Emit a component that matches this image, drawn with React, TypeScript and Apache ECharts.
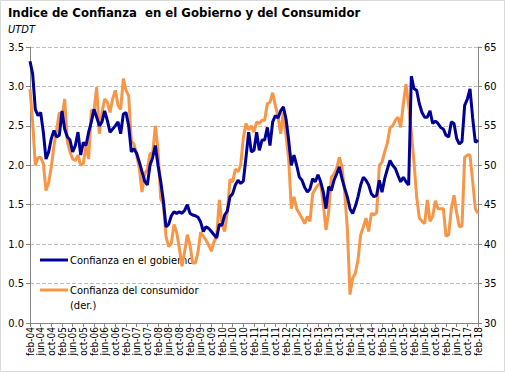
import React, { useEffect, useRef } from "react";
import * as echarts from "echarts";

const titulo = "Indice de Confianza  en el Gobierno y del Consumidor";
const subtitulo = "UTDT";
const nombreGobierno = "Confianza en el gobierno";
const nombreConsumidor = "Confianza del consumidor";
const nombreConsumidor2 = "(der.)";

const meses = ["ene", "feb", "mar", "abr", "may", "jun", "jul", "ago", "sep", "oct", "nov", "dic"];
const mesInicial = 1; // feb
const anioInicial = 2004;
const cantidadMeses = 169; // feb-04 .. feb-18

const categorias: string[] = [];
for (let i = 0; i < cantidadMeses; i++) {
  const m = (mesInicial + i) % 12;
  const a = anioInicial + Math.floor((mesInicial + i) / 12);
  categorias.push(meses[m] + "-" + String(a % 100).padStart(2, "0"));
}

// Confianza en el gobierno (eje izquierdo)
const gobierno = [
  3.32, 3.16, 2.71, 2.63, 2.67, 2.42, 2.08, 2.17, 2.34, 2.44,
  2.36, 2.38, 2.69, 2.46, 2.36, 2.32, 2.17, 2.25, 2.42, 2.13,
  2.29, 2.25, 2.42, 2.55, 2.71, 2.61, 2.50, 2.55, 2.69, 2.57,
  2.42, 2.46, 2.50, 2.55, 2.40, 2.65, 2.67, 2.50, 2.17, 2.21,
  2.15, 2.04, 1.92, 1.80, 1.75, 2.00, 2.10, 2.25, 2.00, 1.80,
  1.55, 1.22, 1.25, 1.36, 1.41, 1.39, 1.41, 1.39, 1.43, 1.50,
  1.39, 1.37, 1.36, 1.34, 1.28, 1.16, 1.22, 1.20, 1.16, 1.12,
  1.08, 1.25, 1.24, 1.37, 1.42, 1.60, 1.64, 1.75, 1.81, 1.77,
  1.80, 2.10, 2.42, 2.17, 2.19, 2.42, 2.19, 2.32, 2.32, 2.48,
  2.25, 2.55, 2.63, 2.60, 2.69, 2.74, 2.59, 2.32, 2.00, 2.13,
  2.00, 1.85, 1.81, 1.72, 1.66, 1.70, 1.83, 1.79, 1.88, 1.79,
  1.66, 1.45, 1.73, 1.68, 1.81, 1.89, 1.98, 1.83, 1.71, 1.60,
  1.45, 1.39, 1.48, 1.60, 1.75, 1.85, 1.81, 1.75, 1.64, 1.60,
  1.62, 1.81, 1.66, 1.83, 1.95, 2.06, 2.00, 1.96, 1.87, 1.79,
  1.85, 1.79, 1.75, 3.13, 2.97, 2.95, 2.78, 2.67, 2.61, 2.61,
  2.69, 2.53, 2.56, 2.53, 2.48, 2.46, 2.38, 2.36, 2.55, 2.53,
  2.34, 2.27, 2.30, 2.76, 2.84, 2.97, 2.60, 2.29, 2.32,
];

// Confianza del consumidor (eje derecho)
const consumidor = [
  59.7, 55.5, 50.0, 51.0, 51.0, 50.2, 46.8, 47.8, 49.8, 52.5,
  54.5, 56.7, 56.0, 58.4, 53.0, 51.7, 50.8, 50.6, 51.3, 50.0,
  50.2, 52.5, 50.8, 57.0, 56.9, 59.9, 54.0, 56.7, 58.4, 58.0,
  56.7, 58.4, 59.5, 57.6, 57.1, 61.0, 59.5, 58.8, 53.0, 52.7,
  51.3, 49.6, 46.6, 48.9, 49.5, 51.5, 51.5, 55.0, 52.0, 45.8,
  45.0, 41.0, 39.7, 40.1, 42.5, 41.5, 39.5, 37.2, 39.1, 41.2,
  39.9, 37.6, 37.6, 39.0, 41.5, 41.0, 40.5, 39.9, 39.1, 40.3,
  41.0, 45.6, 42.5, 41.6, 44.1, 48.2, 47.9, 49.5, 49.2, 50.0,
  53.5, 55.3, 54.5, 55.0, 54.2, 55.5, 55.3, 55.7, 55.7, 57.8,
  58.0, 59.2, 57.6, 56.2, 54.0, 56.7, 53.8, 50.8, 44.5, 46.0,
  44.5, 43.9, 43.3, 42.6, 43.5, 42.9, 46.4, 47.0, 47.5, 47.7,
  45.0, 41.8, 44.1, 48.5, 48.9, 49.6, 51.0, 49.8, 46.6, 42.0,
  33.6, 35.7, 36.3, 38.0, 41.2, 42.2, 43.3, 41.6, 43.9, 43.7,
  44.0, 50.0, 50.4, 51.7, 52.8, 54.8, 55.0, 55.7, 56.1, 54.8,
  57.8, 60.3, 57.6, 54.2, 50.4, 46.0, 43.3, 42.9, 42.6, 45.6,
  42.9, 43.5, 45.5, 44.5, 44.5, 44.5, 41.0, 41.2, 44.5, 46.2,
  44.0, 42.2, 42.3, 51.0, 51.3, 51.3, 48.0, 44.5, 43.9,
];

const AZUL = "#000096";
const NARANJA = "#F79646";
const FUENTE = "Tahoma, 'DejaVu Sans Condensed', 'DejaVu Sans', sans-serif";

export default function App() {
  const ref = useRef<HTMLDivElement>(null);

  useEffect(() => {
    if (!ref.current) return;
    const chart = echarts.init(ref.current, undefined, { renderer: "svg" });
    const ejeComun = {
      axisLine: { show: true, lineStyle: { color: "#868686", width: 1 } },
      axisTick: { show: true, length: 4, lineStyle: { color: "#868686" } },
    };
    chart.setOption({
      animation: false,
      backgroundColor: "#ffffff",
      textStyle: { fontFamily: FUENTE },
      title: {
        text: titulo,
        subtext: subtitulo,
        left: 8,
        top: 6,
        padding: 0,
        itemGap: 5,
        textStyle: { fontSize: 13, fontWeight: "bold", color: "#000", fontFamily: FUENTE },
        subtextStyle: { fontSize: 11, fontStyle: "italic", color: "#000", fontFamily: FUENTE },
      },
      grid: { left: 30, right: 27, top: 47, bottom: 49, containLabel: false },
      xAxis: {
        type: "category",
        data: categorias,
        boundaryGap: false,
        ...ejeComun,
        axisTick: { show: true, length: 4, interval: 3, lineStyle: { color: "#868686" } },
        axisLabel: {
          interval: 3,
          rotate: 90,
          fontSize: 10,
          color: "#000",
          margin: 4,
          fontFamily: FUENTE,
        },
        splitLine: { show: false },
      },
      yAxis: [
        {
          type: "value",
          min: 0,
          max: 3.5,
          interval: 0.5,
          position: "left",
          ...ejeComun,
          axisLabel: {
            fontSize: 11,
            color: "#000",
            margin: 6,
            fontFamily: FUENTE,
            formatter: (v: number) => v.toFixed(1),
          },
          splitLine: { show: true, lineStyle: { color: "#BFBFBF", type: "dashed", width: 1 } },
        },
        {
          type: "value",
          min: 30,
          max: 65,
          interval: 5,
          position: "right",
          ...ejeComun,
          axisLabel: { fontSize: 11, color: "#000", margin: 6, fontFamily: FUENTE },
          splitLine: { show: false },
        },
      ],
      series: [
        {
          name: nombreConsumidor,
          type: "line",
          yAxisIndex: 1,
          data: consumidor,
          showSymbol: false,
          symbol: "none",
          lineStyle: { color: NARANJA, width: 3 },
          itemStyle: { color: NARANJA },
          z: 2,
        },
        {
          name: nombreGobierno,
          type: "line",
          yAxisIndex: 0,
          data: gobierno,
          showSymbol: false,
          symbol: "none",
          lineStyle: { color: AZUL, width: 3 },
          itemStyle: { color: AZUL },
          z: 3,
        },
      ],
      graphic: [
        {
          type: "rect",
          shape: { x: 0.5, y: 0.5, width: 504, height: 371 },
          style: { fill: "none", stroke: "#D9D9D9", lineWidth: 1 },
          silent: true,
        },
        { type: "line", shape: { x1: 40, y1: 260, x2: 68, y2: 260 }, style: { stroke: AZUL, lineWidth: 3 } },
        {
          type: "text",
          x: 70,
          y: 260,
          style: { text: nombreGobierno, fill: "#000", fontSize: 11, fontFamily: FUENTE, verticalAlign: "middle" },
        },
        { type: "line", shape: { x1: 40, y1: 290, x2: 68, y2: 290 }, style: { stroke: NARANJA, lineWidth: 3 } },
        {
          type: "text",
          x: 70,
          y: 290,
          style: { text: nombreConsumidor, fill: "#000", fontSize: 11, fontFamily: FUENTE, verticalAlign: "middle" },
        },
        {
          type: "text",
          x: 70,
          y: 305,
          style: { text: nombreConsumidor2, fill: "#000", fontSize: 11, fontFamily: FUENTE, verticalAlign: "middle" },
        },
      ],
    });
    return () => chart.dispose();
  }, []);

  return <div ref={ref} style={{ width: 505, height: 372, position: "absolute", left: 0, top: 0 }} />;
}
